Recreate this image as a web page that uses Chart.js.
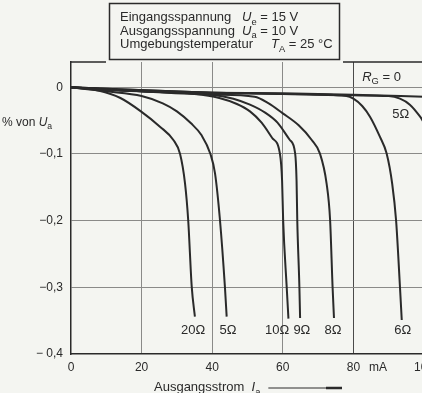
<!DOCTYPE html>
<html>
<head>
<meta charset="utf-8">
<script src="https://cdn.jsdelivr.net/npm/chart.js@4.4.1/dist/chart.umd.min.js"></script>
<style>
  html, body { margin: 0; padding: 0; background: #f4f5f1; overflow: hidden; }
  canvas { display: block; }
</style>
</head>
<body>
<canvas id="grafica" width="440" height="393"></canvas>
<script>
// Ausgangsstrom Ia (mA) und Aenderung von Ua (% von Ua), je Kurve
const rg0Strom = [0, 10, 20, 40, 60, 80, 100];
const rg0Wert = [0, -0.004, -0.006, -0.008, -0.009, -0.011, -0.014];

const r20Strom = [0, 8, 14, 19.8, 25.2, 29, 30.9, 32.3, 33.2, 34.2, 35.1];
const r20Wert = [0, -0.005, -0.016, -0.036, -0.059, -0.079, -0.1, -0.144, -0.199, -0.299, -0.344];

const r5aStrom = [0, 10, 20, 26, 30, 34, 37, 39.5, 40.8, 42.2, 43.6, 44.1];
const r5aWert = [0, -0.006, -0.013, -0.024, -0.036, -0.054, -0.072, -0.1, -0.129, -0.199, -0.299, -0.344];

const r10Strom = [0, 20, 35, 42, 47, 50.7, 54, 57, 59.2, 59.8, 60.1, 61.1, 61.6];
const r10Wert = [0, -0.006, -0.01, -0.016, -0.025, -0.036, -0.053, -0.076, -0.1, -0.14, -0.199, -0.299, -0.347];

const r9Strom = [0, 20, 40, 46, 50.7, 55, 58.5, 62, 63.5, 63.9, 64.1, 64.7, 64.9];
const r9Wert = [0, -0.006, -0.011, -0.017, -0.026, -0.038, -0.053, -0.079, -0.099, -0.14, -0.199, -0.299, -0.346];

const r8Strom = [0, 20, 40, 52, 56, 60, 64.5, 68.2, 70.5, 72.4, 73.4, 74.1, 74.5];
const r8Wert = [0, -0.006, -0.011, -0.014, -0.024, -0.039, -0.057, -0.079, -0.099, -0.144, -0.199, -0.299, -0.346];

const r6Strom = [0, 40, 60, 78, 80, 82.5, 84.7, 87.5, 89.4, 91, 92.1, 93.2, 93.7];
const r6Wert = [0, -0.008, -0.01, -0.013, -0.017, -0.028, -0.044, -0.074, -0.099, -0.145, -0.2, -0.3, -0.349];

const r5bStrom = [0, 40, 60, 80, 90, 93.2, 96, 98.9, 100];
const r5bWert = [0, -0.008, -0.01, -0.012, -0.013, -0.017, -0.026, -0.044, -0.053];

const xTicks = [0, 20, 40, 60, 80, 87, 100];
const yTicks = [0, -0.1, -0.2, -0.3, -0.4];

// Beschriftungen der Kurven: [Text, Strom, Wert]
const kurvenLabels = [
  ['20Ω', 34.6, -0.364], ['5Ω', 44.5, -0.364], ['10Ω', 58.4, -0.364],
  ['9Ω', 65.4, -0.364], ['8Ω', 74.2, -0.364], ['6Ω', 94, -0.364],
  ['5Ω', 93.4, -0.04],
];

const INK = '#2a2a2a';
const FONT = '"Liberation Sans", Arial, sans-serif';

const toPoints = (xs, ys) => xs.map((x, i) => ({ x, y: ys[i] }));
const series = [
  [rg0Strom, rg0Wert], [r20Strom, r20Wert], [r5aStrom, r5aWert], [r10Strom, r10Wert],
  [r9Strom, r9Wert], [r8Strom, r8Wert], [r6Strom, r6Wert], [r5bStrom, r5bWert],
];
const datasets = series.map(([xs, ys]) => ({
  data: toPoints(xs, ys),
  borderColor: INK,
  borderWidth: 2,
  pointRadius: 0,
  cubicInterpolationMode: 'monotone',
  fill: false,
}));

// text with italic / subscript pieces
function rich(ctx, x, y, parts, size) {
  let cx = x;
  parts.forEach(([t, kind]) => {
    const s = kind === 'sub' ? size * 0.72 : size;
    ctx.font = `${kind === 'i' ? 'italic ' : ''}${s}px ${FONT}`;
    ctx.fillText(t, cx, y + (kind === 'sub' ? size * 0.28 : 0));
    cx += ctx.measureText(t).width;
  });
  return cx;
}

const decor = {
  id: 'decor',
  beforeDraw(chart) {
    const { ctx } = chart;
    ctx.save();
    ctx.fillStyle = '#f4f5f1';
    ctx.fillRect(0, 0, chart.width, chart.height);
    ctx.restore();
  },
  afterDraw(chart) {
    const { ctx, chartArea } = chart;
    const sx = chart.scales.x;
    const sy = chart.scales.y;
    ctx.save();
    ctx.fillStyle = INK;
    ctx.strokeStyle = INK;
    ctx.textBaseline = 'alphabetic';

    // oberer Rahmen, unterbrochen durch den Kasten
    ctx.lineWidth = 1.5;
    ctx.beginPath();
    ctx.moveTo(chartArea.left, chartArea.top);
    ctx.lineTo(106, chartArea.top);
    ctx.moveTo(343, chartArea.top);
    ctx.lineTo(chartArea.right, chartArea.top);
    ctx.stroke();

    // Kasten mit Bedingungen
    ctx.fillStyle = '#f4f5f1';
    ctx.fillRect(109.5, 3.5, 230, 56);
    ctx.strokeRect(109.5, 3.5, 230, 56);
    ctx.fillStyle = INK;
    ctx.textAlign = 'left';
    ctx.font = `13px ${FONT}`;
    ctx.fillText('Eingangsspannung', 120, 21);
    ctx.fillText('Ausgangsspannung', 120, 34.5);
    ctx.fillText('Umgebungstemperatur', 120, 48);
    rich(ctx, 242, 21, [['U', 'i'], ['e', 'sub'], [' = 15 V', '']], 13);
    rich(ctx, 242, 34.5, [['U', 'i'], ['a', 'sub'], [' = 10 V', '']], 13);
    rich(ctx, 271, 48, [['T', 'i'], ['A', 'sub'], [' = 25 °C', '']], 13);

    // Kurvenbeschriftungen
    ctx.textAlign = 'center';
    ctx.textBaseline = 'middle';
    ctx.font = `13px ${FONT}`;
    kurvenLabels.forEach(([t, i, v]) => {
      ctx.fillText(t, sx.getPixelForValue(i), sy.getPixelForValue(v));
    });
    ctx.textAlign = 'left';
    ctx.textBaseline = 'alphabetic';
    rich(ctx, sx.getPixelForValue(82.5), sy.getPixelForValue(0.016) + 4,
      [['R', 'i'], ['G', 'sub'], [' = 0', '']], 13);

    // y-Achsentitel (links angeschnitten)
    rich(ctx, 2, 126, [['% von ', ''], ['U', 'i'], ['a', 'sub']], 12);

    // x-Achsentitel mit Pfeil
    const ende = rich(ctx, 154, 391, [['Ausgangsstrom  ', ''], ['I', 'i'], ['a', 'sub']], 13);
    ctx.lineWidth = 1;
    ctx.beginPath();
    ctx.moveTo(ende + 8, 388);
    ctx.lineTo(328, 388);
    ctx.stroke();
    ctx.lineWidth = 2.5;
    ctx.beginPath();
    ctx.moveTo(326, 388);
    ctx.lineTo(342, 388);
    ctx.stroke();
    ctx.restore();
  },
};

const gridX = (c) => {
  const v = c.tick && c.tick.value;
  if (v === 20 || v === 40 || v === 60) return '#8a8a88';
  if (v === 80) return '#4a4a4a';
  return 'rgba(0,0,0,0)';
};
const gridY = (c) => {
  const v = c.tick && c.tick.value;
  return v === -0.4 ? 'rgba(0,0,0,0)' : '#8a8a88';
};

// eslint-disable-next-line no-new, no-undef
new Chart(document.getElementById('grafica'), {
  type: 'line',
  data: { datasets },
  plugins: [decor],
  options: {
    responsive: false,
    animation: false,
    layout: { padding: { top: 62, right: 0, left: 0, bottom: 0 } },
    plugins: { legend: { display: false }, tooltip: { enabled: false } },
    scales: {
      x: {
        type: 'linear',
        min: 0,
        max: 100,
        afterFit(s) { s.height = 39; },
        afterBuildTicks(s) { s.ticks = xTicks.map((value) => ({ value })); },
        ticks: {
          autoSkip: false,
          maxRotation: 0,
          padding: 6,
          color: INK,
          font: { family: FONT, size: 12 },
          callback: (v) => (v === 87 ? 'mA' : String(v)),
        },
        grid: { color: gridX, lineWidth: 1, drawTicks: false },
        border: { color: INK, width: 1.5 },
      },
      y: {
        type: 'linear',
        min: -0.4,
        max: 0.038,
        afterFit(s) { s.width = 71; },
        afterBuildTicks(s) { s.ticks = yTicks.map((value) => ({ value })); },
        ticks: {
          padding: 8,
          color: INK,
          font: { family: FONT, size: 12 },
          callback: (v) => {
            if (v === 0) return '0';
            const txt = Math.abs(v).toFixed(1).replace('.', ',');
            return v === -0.4 ? `− ${txt}` : `−${txt}`;
          },
        },
        grid: { color: gridY, lineWidth: 1, drawTicks: false },
        border: { color: INK, width: 1.5 },
      },
    },
  },
});
</script>
</body>
</html>
